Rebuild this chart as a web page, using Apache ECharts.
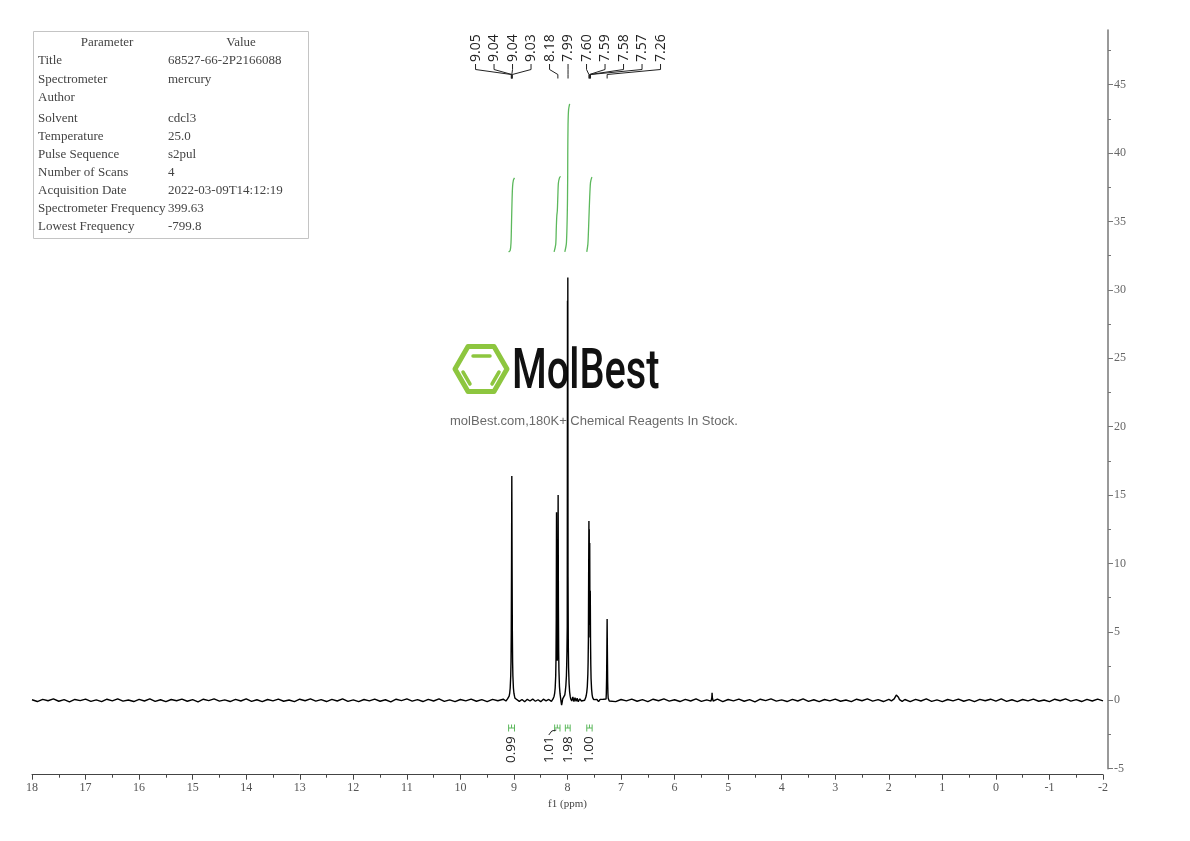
<!DOCTYPE html>
<html><head><meta charset="utf-8">
<script src="https://cdn.jsdelivr.net/npm/echarts@6/dist/echarts.min.js"></script>
<style>html,body{margin:0;padding:0;background:#fff}#c{width:1190px;height:841px}</style>
</head><body><div id="c"></div>
<script>
// ---- data (ppm, intensity) ----
const spectrum = [
[18.0,0.04],[17.9,-0.09],[17.8,0.07],[17.7,-0.03],[17.6,0.1],[17.5,-0.07],[17.4,0.05],[17.3,-0.11],[17.2,0.06],[17.1,-0.02],
[17.0,0.09],[16.9,-0.08],[16.8,0.03],[16.7,-0.1],[16.6,0.08],[16.5,-0.04],[16.4,0.11],[16.3,-0.06],[16.2,0.02],[16.1,-0.09],
[16.0,0.07],[15.9,-0.05],[15.8,0.1],[15.7,-0.08],[15.6,0.04],[15.5,-0.1],[15.4,0.06],[15.3,-0.03],[15.2,0.09],[15.1,-0.07],
[15.0,0.05],[14.9,-0.11],[14.8,0.08],[14.7,-0.02],[14.6,0.1],[14.5,-0.06],[14.4,0.03],[14.3,-0.09],[14.2,0.07],[14.1,-0.05],
[14.0,0.11],[13.9,-0.08],[13.8,0.04],[13.7,-0.1],[13.6,0.06],[13.5,-0.04],[13.4,0.09],[13.3,-0.07],[13.2,0.02],[13.1,-0.1],
[13.0,0.08],[12.9,-0.03],[12.8,0.1],[12.7,-0.06],[12.6,0.05],[12.5,-0.09],[12.4,0.07],[12.3,-0.05],[12.2,0.11],[12.1,-0.08],
[12.0,0.03],[11.9,-0.1],[11.8,0.06],[11.7,-0.04],[11.6,0.09],[11.5,-0.07],[11.4,0.04],[11.3,-0.11],[11.2,0.08],[11.1,-0.02],
[11.0,0.1],[10.9,-0.06],[10.8,0.05],[10.7,-0.09],[10.6,0.07],[10.5,-0.05],[10.4,0.1],[10.3,-0.08],[10.2,0.03],[10.1,-0.1],
[10.0,0.06],[9.9,-0.04],[9.8,0.09],[9.7,-0.07],[9.6,0.05],[9.5,-0.1],[9.4,0.07],[9.3,-0.03],[9.2,0.08],[9.15,-0.05],
[9.12,0.1],[9.10,0.18],[9.09,0.3],[9.08,0.5],[9.07,0.9],[9.06,1.8],[9.055,2.8],[9.05,5.0],[9.045,10.0],[9.04,16.4],
[9.035,10.0],[9.03,5.0],[9.025,2.8],[9.02,1.8],[9.01,0.9],[9.0,0.5],[8.99,0.3],[8.98,0.15],[8.96,0.02],
[8.9,-0.08],[8.85,0.06],[8.8,-0.1],[8.75,0.07],[8.7,-0.05],[8.65,0.09],[8.6,-0.07],[8.55,0.04],[8.5,-0.1],[8.45,0.08],
[8.4,-0.04],[8.35,0.06],[8.3,-0.08],[8.27,0.1],[8.26,0.2],[8.25,0.3],[8.24,0.5],[8.23,0.9],[8.22,1.8],[8.215,3.0],
[8.21,6.0],[8.205,13.75],[8.2,6.5],[8.195,3.6],[8.19,2.9],[8.185,4.0],[8.18,7.5],[8.175,15.0],[8.17,7.0],[8.165,3.6],
[8.16,2.2],[8.15,1.0],[8.14,0.5],[8.13,0.2],[8.12,-0.1],[8.11,-0.35],[8.1,-0.15],[8.09,0.1],[8.07,0.2],[8.05,0.4],
[8.04,0.7],[8.03,1.1],[8.02,1.8],[8.015,2.6],[8.01,3.6],[8.005,5.35],[8.0,29.2],[7.997,10.0],[7.994,30.9],[7.99,9.0],
[7.985,4.0],[7.98,2.4],[7.97,1.2],[7.96,0.6],[7.95,0.3],[7.94,0.1],[7.92,-0.05],[7.9,0.25],[7.88,-0.1],[7.86,0.2],
[7.84,-0.08],[7.82,0.15],[7.8,-0.1],[7.77,0.1],[7.74,-0.05],[7.71,0.08],[7.68,0.0],[7.66,0.2],[7.65,0.35],[7.64,0.6],
[7.63,1.0],[7.62,1.9],[7.615,2.8],[7.61,4.4],[7.605,9.0],[7.6,13.1],[7.597,6.0],[7.594,12.5],[7.59,5.5],[7.585,11.5],
[7.58,4.6],[7.575,8.0],[7.57,4.4],[7.565,2.6],[7.56,1.6],[7.55,0.8],[7.54,0.4],[7.53,0.2],[7.51,0.05],[7.48,-0.08],
[7.45,0.06],[7.42,-0.1],[7.39,0.07],[7.36,-0.05],[7.33,0.08],[7.3,-0.06],[7.28,0.1],[7.275,0.5],[7.27,1.6],[7.265,3.5],
[7.26,5.95],[7.255,3.5],[7.25,1.4],[7.245,0.5],[7.24,0.15],[7.22,-0.05],[7.2,0.08],[7.1,-0.1],[7.0,0.06],[6.9,-0.04],
[6.8,0.09],[6.7,-0.07],[6.6,0.05],[6.5,-0.1],[6.4,0.08],[6.3,-0.03],[6.2,0.1],[6.1,-0.06],[6.0,0.04],[5.9,-0.09],
[5.8,0.07],[5.7,-0.05],[5.6,0.11],[5.5,-0.08],[5.4,0.03],[5.32,-0.06],[5.305,0.2],[5.30,0.55],[5.295,0.2],[5.28,-0.05],
[5.2,0.08],[5.1,-0.1],[5.0,0.06],[4.9,-0.04],[4.8,0.09],[4.7,-0.07],[4.6,0.05],[4.5,-0.11],[4.4,0.08],[4.3,-0.02],
[4.2,0.1],[4.1,-0.06],[4.0,0.03],[3.9,-0.09],[3.8,0.07],[3.7,-0.05],[3.6,0.1],[3.5,-0.08],[3.4,0.04],[3.3,-0.1],
[3.2,0.06],[3.1,-0.04],[3.0,0.09],[2.9,-0.07],[2.8,0.02],[2.7,-0.1],[2.6,0.08],[2.5,-0.03],[2.4,0.1],[2.3,-0.06],
[2.2,0.05],[2.1,-0.09],[2.0,0.07],[1.95,-0.04],[1.9,0.1],[1.88,0.2],[1.86,0.38],[1.84,0.45],[1.82,0.22],[1.8,0.05],
[1.75,-0.08],[1.7,0.06],[1.6,-0.1],[1.5,0.07],[1.4,-0.05],[1.3,0.1],[1.2,-0.08],[1.1,0.03],[1.0,-0.1],[0.9,0.06],
[0.8,-0.04],[0.7,0.09],[0.6,-0.07],[0.5,0.05],[0.4,-0.1],[0.3,0.07],[0.2,-0.03],[0.1,0.08],[0.0,-0.06],[-0.1,0.1],
[-0.2,-0.08],[-0.3,0.04],[-0.4,-0.1],[-0.5,0.06],[-0.6,-0.04],[-0.7,0.09],[-0.8,-0.07],[-0.9,0.02],[-1.0,-0.1],[-1.1,0.08],
[-1.2,-0.03],[-1.3,0.1],[-1.4,-0.06],[-1.5,0.05],[-1.6,-0.09],[-1.7,0.07],[-1.8,-0.05],[-1.9,0.09],[-2.0,-0.04]
];
const peakLabels = [9.05, 9.04, 9.04, 9.03, 8.18, 7.99, 7.60, 7.59, 7.58, 7.57, 7.26];
const integralRanges = [[9.10, 8.99], [8.24, 8.14], [8.04, 7.95], [7.64, 7.54]];
const integralValues = [0.99, 1.01, 1.98, 1.00];
const integralCurve1 = [[9.10,0],[9.07,0.02],[9.055,0.12],[9.045,0.4],[9.035,0.7],[9.025,0.88],[9.01,0.96],[8.99,0.99]];
const integralCurve2 = [[8.25,0],[8.22,0.1],[8.21,0.3],[8.2,0.48],[8.19,0.55],[8.18,0.75],[8.17,0.92],[8.15,0.99],[8.13,1.01]];
const integralCurve3 = [[8.05,0],[8.02,0.12],[8.0,0.7],[7.995,1.3],[7.99,1.7],[7.98,1.9],[7.96,1.98]];
const integralCurve4 = [[7.64,0],[7.62,0.1],[7.61,0.25],[7.6,0.45],[7.59,0.65],[7.58,0.82],[7.57,0.93],[7.55,0.99],[7.54,1.0]];
const yTickValues = [-5, 0, 5, 10, 15, 20, 25, 30, 35, 40, 45];
const tableHeader = ['Parameter', 'Value'];
const tableParams = ['Title', 'Spectrometer', 'Author', 'Solvent', 'Temperature', 'Pulse Sequence', 'Number of Scans', 'Acquisition Date', 'Spectrometer Frequency', 'Lowest Frequency'];
const tableValues = ['68527-66-2P2166088', 'mercury', '', 'cdcl3', '25.0', 's2pul', '4', '2022-03-09T14:12:19', '399.63', '-799.8'];
const watermarkTitle = 'MolBest';
const watermarkSub = 'molBest.com,180K+ Chemical Reagents In Stock.';

// ---- chart ----
const chart = echarts.init(document.getElementById('c'), null, {renderer: 'canvas'});
const serifFont = '"Liberation Serif", "DejaVu Serif", serif';
const labelFont = '"Open Sans", "DejaVu Sans", sans-serif';
const tableFont = '13px "Liberation Serif", "DejaVu Serif", serif';
const green = '#5cb85c';

function integralLabelLayout(api) {
  const centers = integralRanges.map(r => api.coord([(r[0] + r[1]) / 2, 0])[0]);
  const xs = centers.slice();
  for (let i = xs.length - 2; i >= 0; i--) {
    if (xs[i] > xs[i + 1] - 19) xs[i] = xs[i + 1] - 19;
  }
  return {centers, xs};
}

const graphics = [];
// watermark
graphics.push({
  type: 'group', z: 0, silent: true, children: [
    {type: 'polygon', shape: {points: [[455,369],[468,346.5],[494,346.5],[507,369],[494,391.5],[468,391.5]]},
     style: {fill: null, stroke: '#8dc63f', lineWidth: 5, lineJoin: 'round'}},
    {type: 'line', shape: {x1: 473, y1: 356, x2: 490, y2: 356}, style: {stroke: '#8dc63f', lineWidth: 3.5, lineCap: 'round'}},
    {type: 'line', shape: {x1: 463, y1: 372, x2: 470, y2: 384}, style: {stroke: '#8dc63f', lineWidth: 3.5, lineCap: 'round'}},
    {type: 'line', shape: {x1: 499, y1: 372, x2: 492, y2: 384}, style: {stroke: '#8dc63f', lineWidth: 3.5, lineCap: 'round'}},
    {type: 'text', x: 512, y: 374, scaleX: 0.71, style: {text: watermarkTitle, fill: '#111', font: '500 56px Roboto, "DejaVu Sans", sans-serif', align: 'left', verticalAlign: 'middle'}},
    {type: 'text', x: 594, y: 421, style: {text: watermarkSub, fill: '#6a6a6a', font: '13px "Liberation Sans", Arial, sans-serif', align: 'center', verticalAlign: 'middle'}}
  ]
});
// parameter table
const tableChildren = [
  {type: 'rect', shape: {x: 33.5, y: 31.5, width: 275, height: 207}, style: {fill: '#fff', stroke: '#c4c4c4', lineWidth: 1}},
  {type: 'text', x: 107, y: 43, style: {text: tableHeader[0], fill: '#444', font: tableFont, align: 'center', verticalAlign: 'middle'}},
  {type: 'text', x: 241, y: 43, style: {text: tableHeader[1], fill: '#444', font: tableFont, align: 'center', verticalAlign: 'middle'}}
];
tableParams.forEach((p, i) => {
  const y = 61 + i * 18.1 + (i >= 3 ? 3 : 0);
  tableChildren.push({type: 'text', x: 38, y: y, style: {text: p, fill: '#444', font: tableFont, align: 'left', verticalAlign: 'middle'}});
  tableChildren.push({type: 'text', x: 168, y: y, style: {text: tableValues[i], fill: '#444', font: tableFont, align: 'left', verticalAlign: 'middle'}});
});
graphics.push({type: 'group', z: 5, silent: true, children: tableChildren});

const option = {
  animation: false,
  backgroundColor: '#fff',
  grid: {left: 32, right: 87, top: 30, bottom: 72.3, containLabel: false},
  xAxis: {
    type: 'value', min: -2, max: 18, interval: 1, inverse: true, offset: 6, position: 'bottom',
    axisLine: {show: true, onZero: false, lineStyle: {color: '#444', width: 1}},
    axisTick: {show: true, inside: false, length: 5, lineStyle: {color: '#444'}},
    minorTick: {show: true, splitNumber: 2, length: 3, lineStyle: {color: '#444'}},
    splitLine: {show: false},
    axisLabel: {margin: 7, fontFamily: serifFont, fontSize: 12, color: '#555'},
    name: 'f1 (ppm)', nameLocation: 'middle', nameGap: 21,
    nameTextStyle: {fontFamily: serifFont, fontSize: 11, color: '#444'}
  },
  yAxis: [{
    type: 'value', position: 'right', min: -5, max: 49, interval: 5, offset: 5,
    axisLine: {show: true, onZero: false, lineStyle: {color: '#777', width: 1.5}},
    axisTick: {show: true, inside: false, length: 5, lineStyle: {color: '#777'}, customValues: yTickValues},
    minorTick: {show: true, splitNumber: 2, length: 3, lineStyle: {color: '#777'}},
    splitLine: {show: false},
    axisLabel: {margin: 6, fontFamily: serifFont, fontSize: 12, color: '#666', customValues: yTickValues}
  }, {
    type: 'value', show: false, min: -6.92, max: 2.97
  }],
  graphic: graphics,
  series: [
    {type: 'line', name: 'spectrum', data: spectrum, showSymbol: false, symbol: 'none', z: 3,
     lineStyle: {color: '#000', width: 1.4}, sampling: null, silent: true},
    {type: 'line', data: integralCurve1, yAxisIndex: 1, symbol: 'none', smooth: 0.3, lineStyle: {color: green, width: 1.3}, silent: true},
    {type: 'line', data: integralCurve2, yAxisIndex: 1, symbol: 'none', smooth: 0.3, lineStyle: {color: green, width: 1.3}, silent: true},
    {type: 'line', data: integralCurve3, yAxisIndex: 1, symbol: 'none', smooth: 0.3, lineStyle: {color: green, width: 1.3}, silent: true},
    {type: 'line', data: integralCurve4, yAxisIndex: 1, symbol: 'none', smooth: 0.3, lineStyle: {color: green, width: 1.3}, silent: true},
    {
      type: 'custom', name: 'peakLabels', clip: false, silent: true, z: 4,
      data: peakLabels.map(v => [v, 0]),
      encode: {x: 0, y: 1},
      renderItem: function (params, api) {
        const i = params.dataIndex;
        const ppm = api.value(0);
        const peakX = api.coord([ppm, 0])[0];
        const mid = (peakLabels.length - 1) / 2;
        const medX = api.coord([peakLabels[mid], 0])[0];
        const lx = medX + (i - mid) * 18.5;
        return {type: 'group', children: [
          {type: 'text', x: lx, y: 62, rotation: Math.PI / 2,
           style: {text: ppm.toFixed(2), fill: '#222', font: '14px ' + labelFont, align: 'left', verticalAlign: 'middle'}},
          {type: 'polyline', shape: {points: [[lx, 64], [lx, 69.5], [peakX, 74.5], [peakX, 78.5]]},
           style: {stroke: '#222', lineWidth: 1, fill: null}}
        ]};
      }
    },
    {
      type: 'custom', name: 'integralLabels', clip: false, silent: true, z: 4,
      data: integralRanges.map((r, i) => [(r[0] + r[1]) / 2, 0, r[0], r[1], integralValues[i]]),
      encode: {x: 0, y: 1},
      renderItem: function (params, api) {
        const i = params.dataIndex;
        const lay = integralLabelLayout(api);
        const x1 = api.coord([api.value(2), 0])[0];
        const x2 = api.coord([api.value(3), 0])[0];
        const cx = lay.centers[i];
        const lx = lay.xs[i];
        const children = [
          {type: 'line', shape: {x1: x1, y1: 728, x2: x2, y2: 728}, style: {stroke: green, lineWidth: 1}},
          {type: 'line', shape: {x1: x1, y1: 724.5, x2: x1, y2: 731.5}, style: {stroke: green, lineWidth: 1}},
          {type: 'line', shape: {x1: x2, y1: 724.5, x2: x2, y2: 731.5}, style: {stroke: green, lineWidth: 1}},
          {type: 'line', shape: {x1: cx, y1: 724.5, x2: cx, y2: 728}, style: {stroke: green, lineWidth: 1}},
          {type: 'text', x: lx, y: 763, rotation: Math.PI / 2,
           style: {text: api.value(4).toFixed(2), fill: '#222', font: '13.5px ' + labelFont, align: 'left', verticalAlign: 'middle'}}
        ];
        if (Math.abs(lx - cx) > 1) {
          children.push({type: 'polyline', shape: {points: [[lx, 735], [lx + 3, 731], [cx - 1, 730]]},
            style: {stroke: '#222', lineWidth: 1, fill: null}});
        }
        return {type: 'group', children: children};
      }
    }
  ]
};
chart.setOption(option);
</script>
</body></html>
